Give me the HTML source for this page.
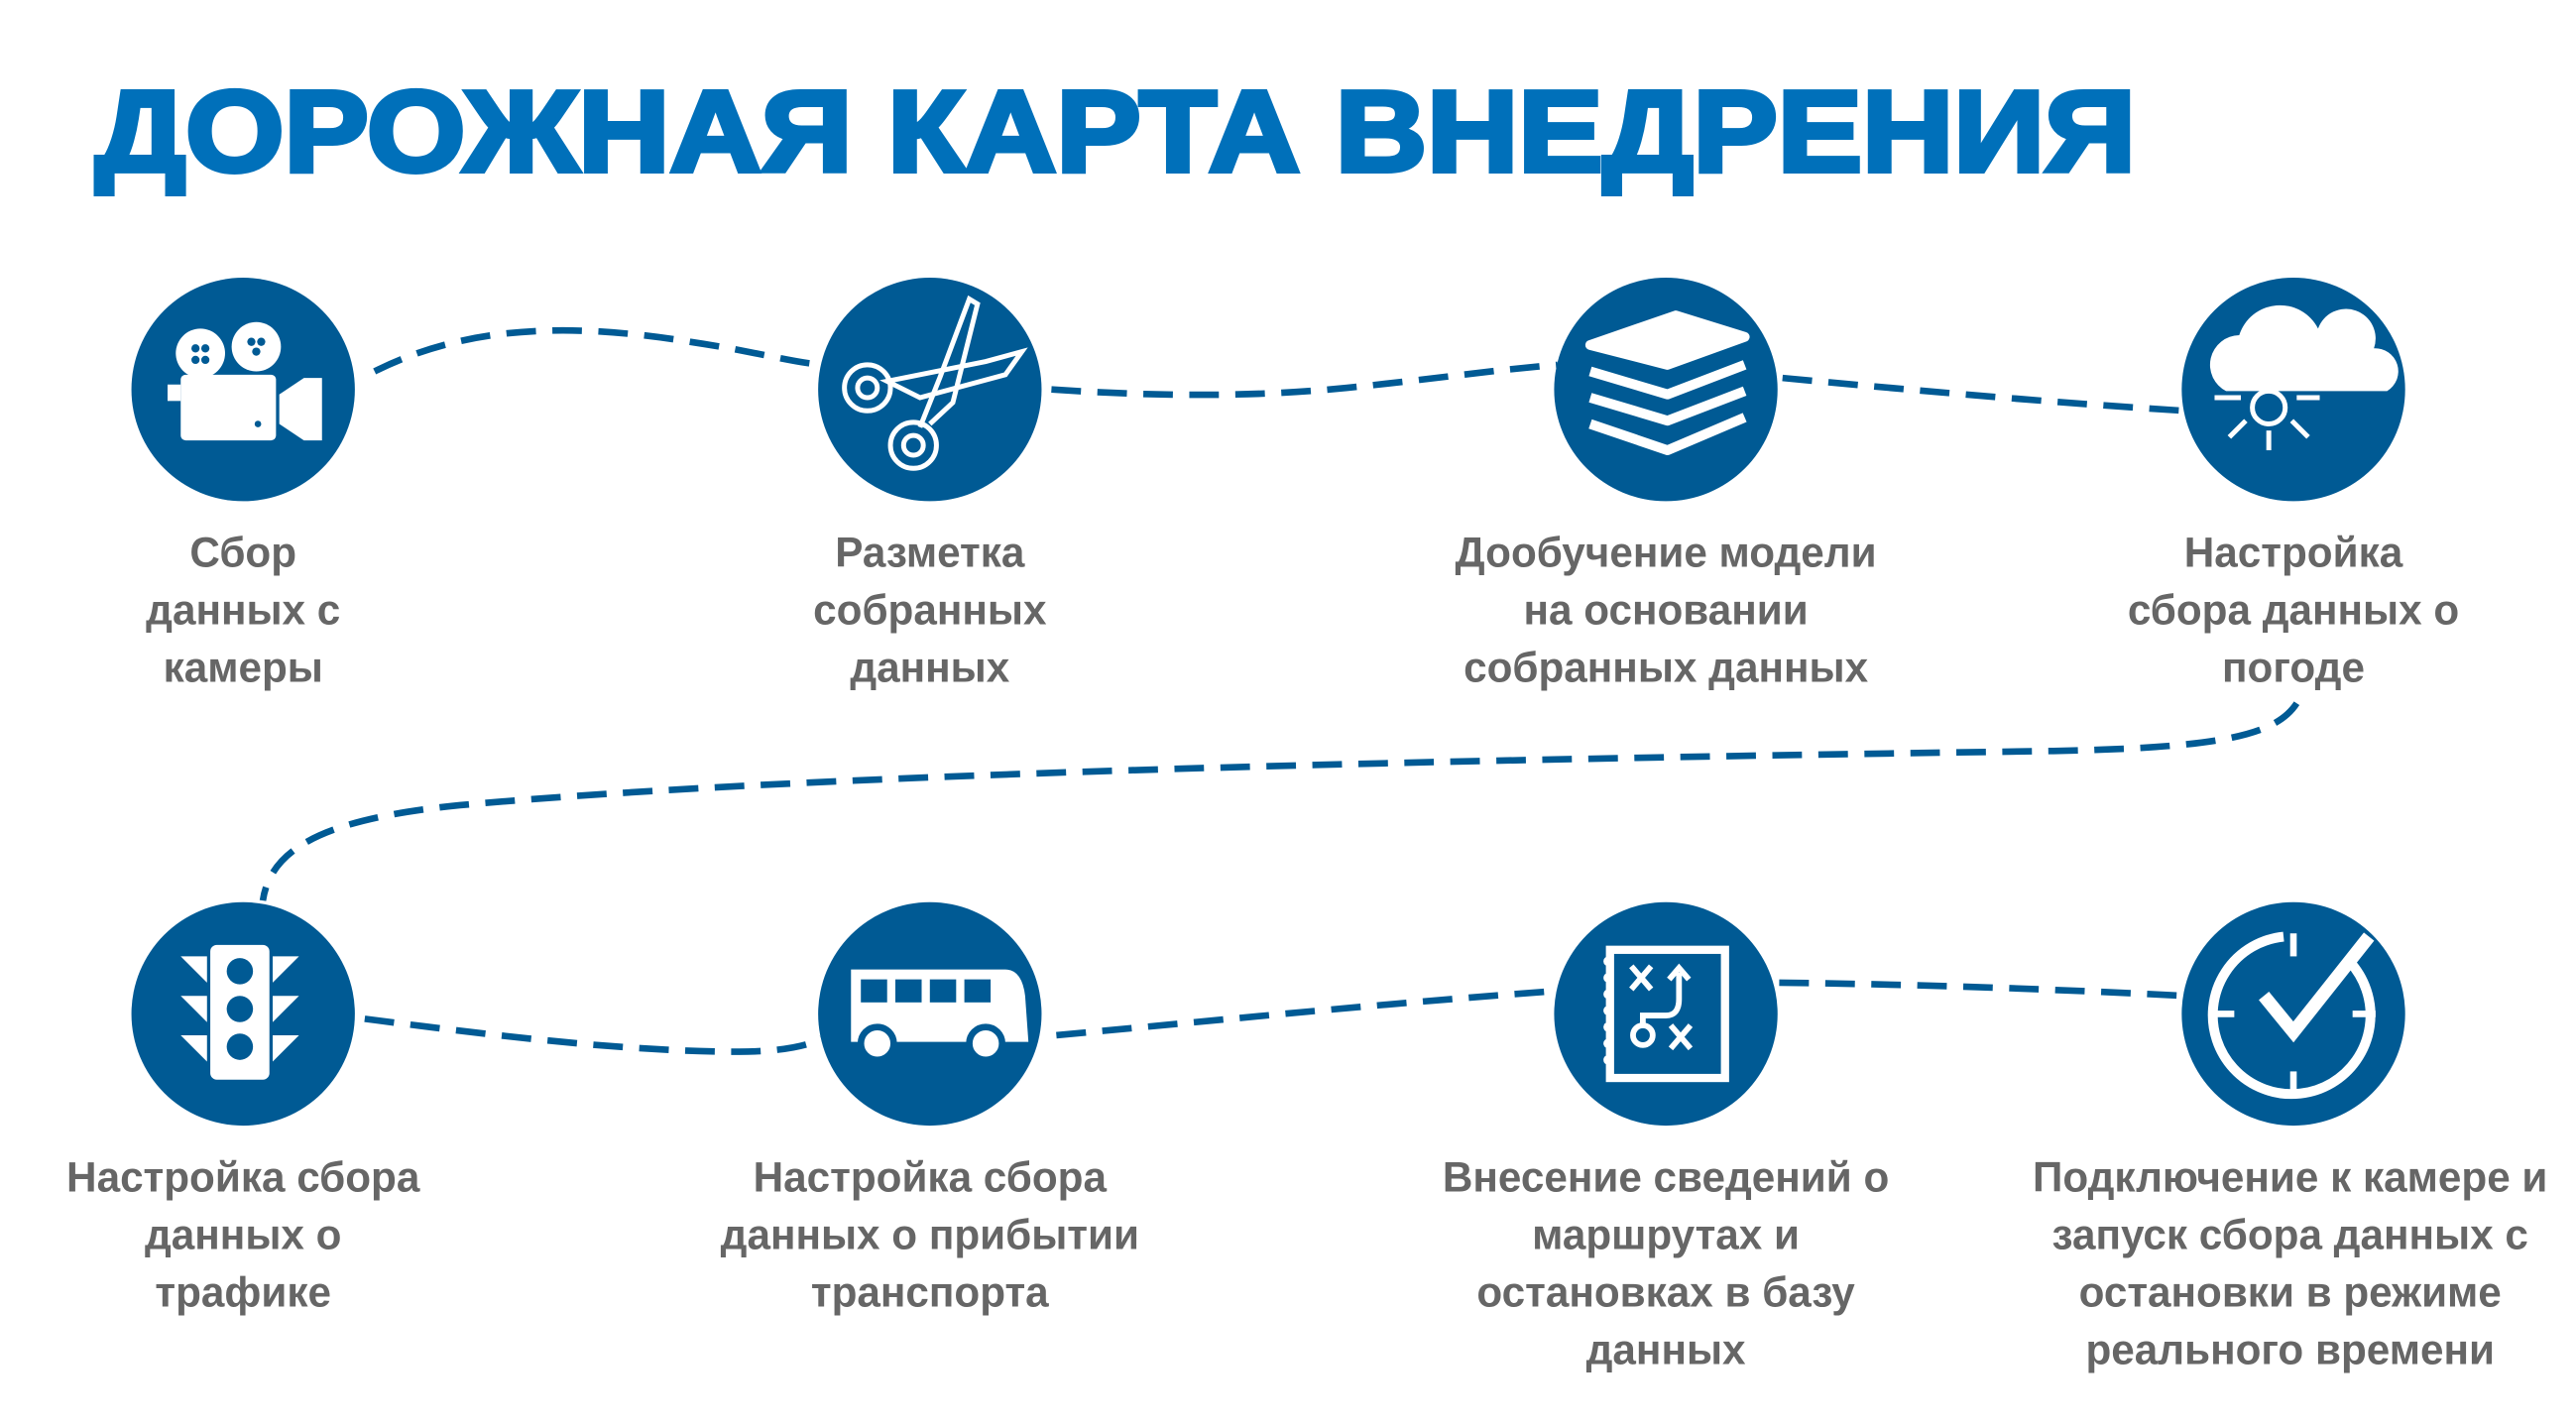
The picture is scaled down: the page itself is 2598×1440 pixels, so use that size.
<!DOCTYPE html>
<html><head><meta charset="utf-8"><style>
html,body{margin:0;padding:0;background:#fff;width:2598px;height:1440px;overflow:hidden}
svg{display:block}
.lbl{font-family:"Liberation Sans Narrow","Liberation Sans","DejaVu Sans",sans-serif;font-weight:bold;font-size:25.5px;fill:#666;text-anchor:middle}
</style></head><body>
<svg width="2598" height="1440" viewBox="0 0 1568 869" preserveAspectRatio="none" xmlns="http://www.w3.org/2000/svg">
<text x="58" y="104" textLength="1242" lengthAdjust="spacingAndGlyphs" font-family="'Liberation Sans',sans-serif" font-weight="900" font-size="70" fill="#0070ba" stroke="#0070ba" stroke-width="3">ДОРОЖНАЯ КАРТА ВНЕДРЕНИЯ</text>
<g fill="none" stroke="#005a94" stroke-width="4" stroke-dasharray="18 10">
<path d="M228,226 C280,200 340,195 420,208 C460,214 480,220 500,222"/>
<path d="M640,237 C700,241 760,242 820,236 C870,231 910,225 948,222"/>
<path d="M1085,230 C1170,238 1250,245 1330,250"/>
<path d="M1398,428 C1385,448 1350,455 1250,457 C900,462 500,470 280,490 C200,498 165,515 160,548"/>
<path d="M222,620 C300,630 380,640 450,640 C480,640 495,635 500,632"/>
<path d="M643,630 C750,620 850,610 948,603"/>
<path d="M1083,598 C1170,599 1250,602 1330,606"/>
</g>
<g fill="#005a94">
<circle cx="148" cy="237" r="68"/>
<circle cx="566" cy="237" r="68"/>
<circle cx="1014" cy="237" r="68"/>
<circle cx="1396" cy="237" r="68"/>
<circle cx="148" cy="617" r="68"/>
<circle cx="566" cy="617" r="68"/>
<circle cx="1014" cy="617" r="68"/>
<circle cx="1396" cy="617" r="68"/>
</g>
<g fill="#fff">
<circle cx="122" cy="215" r="15"/><circle cx="156" cy="211" r="15"/>
<rect x="110" y="228" width="58" height="40" rx="3"/>
<rect x="102" y="234" width="8" height="10"/>
<polygon points="170,240 185,230 196,230 196,268 185,268 170,258"/>
<g fill="#005a94"><circle cx="119" cy="212" r="2.5"/><circle cx="125" cy="212" r="2.5"/><circle cx="119" cy="219" r="2.5"/><circle cx="125" cy="219" r="2.5"/><circle cx="153" cy="208" r="2.5"/><circle cx="159" cy="208" r="2.5"/><circle cx="156" cy="214" r="2.5"/><circle cx="157" cy="258" r="2"/></g>
</g>
<g fill="none" stroke="#fff" stroke-width="3">
<circle cx="528" cy="236" r="14"/><circle cx="528" cy="236" r="6"/>
<circle cx="556" cy="271" r="14"/><circle cx="556" cy="271" r="6"/>
<path d="M540,232 L600,220 L622,214 L612,228 L560,242 Z"/>
<path d="M560,260 L572,230 L590,182 L595,185 L580,245 L566,258"/>
</g>
<g fill="none" stroke="#fff" stroke-width="6" stroke-linejoin="round">
<path d="M968,210 L1020,192 L1062,205 L1015,222 Z" fill="#fff"/>
<path d="M968,226 L1015,240 L1062,222"/>
<path d="M968,242 L1015,256 L1062,238"/>
<path d="M968,258 L1015,274 L1062,254"/>
</g>
<g fill="#fff">
<path d="M1355,238 a18,18 0 0 1 8,-34 a26,26 0 0 1 48,-4 a18,18 0 0 1 34,12 a14,14 0 0 1 8,26 Z"/>
<circle cx="1381" cy="248" r="10" fill="#005a94" stroke="#fff" stroke-width="3"/>
<g stroke="#fff" stroke-width="3"><line x1="1381" y1="262" x2="1381" y2="274"/><line x1="1367" y1="256" x2="1357" y2="266"/><line x1="1395" y1="256" x2="1405" y2="266"/><line x1="1348" y1="242" x2="1364" y2="242"/><line x1="1398" y1="242" x2="1412" y2="242"/></g>
</g>
<g fill="#fff">
<rect x="128" y="575" width="36" height="82" rx="4"/>
<polygon points="110,582 126,582 126,598"/><polygon points="182,582 166,582 166,598"/>
<polygon points="110,606 126,606 126,622"/><polygon points="182,606 166,606 166,622"/>
<polygon points="110,630 126,630 126,646"/><polygon points="182,630 166,630 166,646"/>
<g fill="#005a94"><circle cx="146" cy="591" r="8"/><circle cx="146" cy="614" r="8"/><circle cx="146" cy="637" r="8"/></g>
</g>
<g>
<path d="M518,590 L612,590 Q622,590 624,606 L626,634 L518,634 Z" fill="#fff"/>
<g fill="#005a94"><rect x="524" y="596" width="16" height="14"/><rect x="545" y="596" width="16" height="14"/><rect x="566" y="596" width="16" height="14"/><rect x="587" y="596" width="16" height="14"/></g>
<circle cx="534" cy="635" r="10" fill="#fff" stroke="#005a94" stroke-width="4"/>
<circle cx="600" cy="635" r="10" fill="#fff" stroke="#005a94" stroke-width="4"/>
</g>
<g>
<rect x="980" y="578" width="70" height="78" fill="none" stroke="#fff" stroke-width="5"/>
<g fill="#fff"><circle cx="979" cy="585" r="3"/><circle cx="979" cy="595" r="3"/><circle cx="979" cy="605" r="3"/><circle cx="979" cy="615" r="3"/><circle cx="979" cy="625" r="3"/><circle cx="979" cy="635" r="3"/><circle cx="979" cy="645" r="3"/></g>
<g stroke="#fff" stroke-width="3.5" fill="none"><path d="M993,588 l12,14 M1005,588 l-12,14"/><path d="M1017,624 l12,14 M1029,624 l-12,14"/><circle cx="1000" cy="630" r="6"/><path d="M1000,624 v-6 h14 q8,0 8,-10 v-16 M1016,596 l6,-7 l6,7"/></g>
</g>
<g fill="none" stroke="#fff" stroke-width="6">
<path d="M1430,585 A48,48 0 1 1 1390,570"/>
<line x1="1396" y1="568" x2="1396" y2="582" stroke-width="4"/><line x1="1396" y1="652" x2="1396" y2="666" stroke-width="4"/>
<line x1="1346" y1="617" x2="1360" y2="617" stroke-width="4"/><line x1="1432" y1="617" x2="1446" y2="617" stroke-width="4"/>
<path d="M1378,606 L1396,628 L1442,570" stroke-width="8"/>
</g>
<g>
<text class="lbl"><tspan x="148" y="345">Сбор</tspan><tspan x="148" y="380">данных с</tspan><tspan x="148" y="415">камеры</tspan></text>
<text class="lbl"><tspan x="566" y="345">Разметка</tspan><tspan x="566" y="380">собранных</tspan><tspan x="566" y="415">данных</tspan></text>
<text class="lbl"><tspan x="1014" y="345">Дообучение модели</tspan><tspan x="1014" y="380">на основании</tspan><tspan x="1014" y="415">собранных данных</tspan></text>
<text class="lbl"><tspan x="1396" y="345">Настройка</tspan><tspan x="1396" y="380">сбора данных о</tspan><tspan x="1396" y="415">погоде</tspan></text>
<text class="lbl"><tspan x="148" y="725">Настройка сбора</tspan><tspan x="148" y="760">данных о</tspan><tspan x="148" y="795">трафике</tspan></text>
<text class="lbl"><tspan x="566" y="725">Настройка сбора</tspan><tspan x="566" y="760">данных о прибытии</tspan><tspan x="566" y="795">транспорта</tspan></text>
<text class="lbl"><tspan x="1014" y="725">Внесение сведений о</tspan><tspan x="1014" y="760">маршрутах и</tspan><tspan x="1014" y="795">остановках в базу</tspan><tspan x="1014" y="830">данных</tspan></text>
<text class="lbl"><tspan x="1394" y="725">Подключение к камере и</tspan><tspan x="1394" y="760">запуск сбора данных с</tspan><tspan x="1394" y="795">остановки в режиме</tspan><tspan x="1394" y="830">реального времени</tspan></text>
</g>
</svg>
</body></html>
